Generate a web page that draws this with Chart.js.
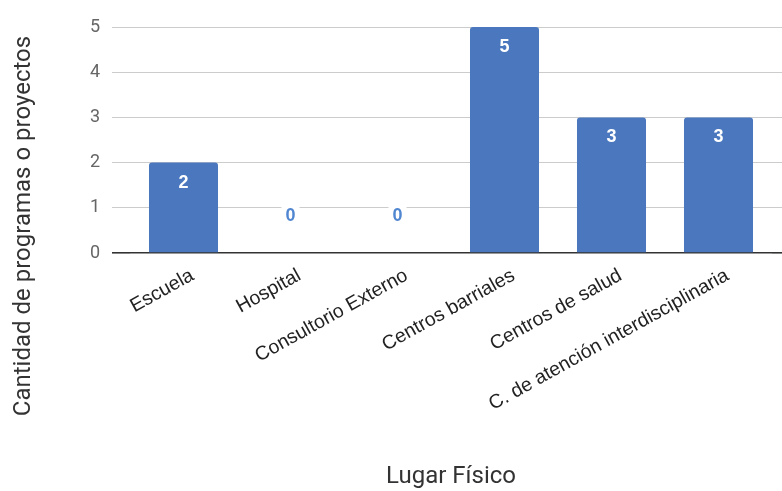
<!DOCTYPE html>
<html>
<head>
<meta charset="utf-8">
<script src="https://cdn.jsdelivr.net/npm/chart.js@4/dist/chart.umd.min.js"></script>
<style>
  html, body { margin: 0; padding: 0; background: #fff; }
  #wrap { width: 782px; height: 491px; position: relative; }
</style>
</head>
<body>
<div id="wrap"><canvas id="c" width="782" height="491"></canvas></div>
<script>
// Lugares físicos y cantidad de programas o proyectos en cada uno
const categories = [
  'Escuela',
  'Hospital',
  'Consultorio Externo',
  'Centros barriales',
  'Centros de salud',
  'C. de atención interdisciplinaria'
];
const cantidades = [2, 0, 0, 5, 3, 3];
const yTicks = [0, 1, 2, 3, 4, 5];
const yAxisTitle = 'Cantidad de programas o proyectos';
const xAxisTitle = 'Lugar Físico';

const BAR_BLUE = '#4a77be';
const ZERO_BLUE = '#5186d1';

const gridColor = (ctx) => (ctx.tick && ctx.tick.value === 0 ? '#333333' : '#cccccc');
const gridWidth = (ctx) => (ctx.tick && ctx.tick.value === 0 ? 1.6 : 1);

// Etiquetas de valor sobre/dentro de cada barra
const valueLabels = {
  id: 'valueLabels',
  afterDatasetsDraw(chart) {
    const { ctx } = chart;
    const meta = chart.getDatasetMeta(0);
    const values = chart.data.datasets[0].data;
    ctx.save();
    ctx.textAlign = 'center';
    ctx.textBaseline = 'middle';
    ctx.font = 'bold 18px "Liberation Sans", Arial, sans-serif';
    meta.data.forEach((bar, i) => {
      const v = values[i];
      const text = String(v);
      if (v > 0) {
        ctx.fillStyle = '#ffffff';
        ctx.fillText(text, bar.x, bar.y + 20);
      } else {
        const y = bar.base - 37;
        const w = ctx.measureText(text).width + 8;
        ctx.fillStyle = '#ffffff';
        ctx.fillRect(bar.x - w / 2, y - 10, w, 20);
        ctx.fillStyle = ZERO_BLUE;
        ctx.fillText(text, bar.x, y);
      }
    });
    ctx.restore();
  }
};

// Título vertical del eje Y
const yTitle = {
  id: 'yTitle',
  afterDraw(chart) {
    const { ctx } = chart;
    ctx.save();
    ctx.translate(24, 226);
    ctx.rotate(-Math.PI / 2);
    ctx.textAlign = 'center';
    ctx.textBaseline = 'middle';
    ctx.fillStyle = '#333333';
    ctx.font = '24px Roboto, sans-serif';
    ctx.fillText(yAxisTitle, 0, 0);
    ctx.restore();
  }
};

new Chart(document.getElementById('c'), {
  type: 'bar',
  data: {
    labels: categories,
    datasets: [{
      data: cantidades,
      backgroundColor: BAR_BLUE,
      borderRadius: 3,
      borderSkipped: 'start',
      categoryPercentage: 1,
      barPercentage: 0.645
    }]
  },
  options: {
    responsive: false,
    animation: false,
    events: [],
    layout: { padding: { top: 27, left: 0, right: 0, bottom: 0 } },
    plugins: {
      legend: { display: false },
      tooltip: { enabled: false }
    },
    scales: {
      x: {
        grid: { display: false, drawTicks: false },
        border: { display: false },
        ticks: {
          minRotation: 29,
          maxRotation: 29,
          autoSkip: false,
          padding: 11,
          labelOffset: 9,
          color: '#222222',
          font: { family: '"Liberation Sans", Arial, sans-serif', size: 19.5 }
        },
        title: {
          display: true,
          text: xAxisTitle,
          color: '#333333',
          font: { family: 'Roboto, sans-serif', size: 24 },
          padding: { top: 0, bottom: 0 }
        },
        afterFit(scale) { scale.height = 238; }
      },
      y: {
        min: 0,
        max: 5,
        afterBuildTicks(scale) { scale.ticks = yTicks.map(v => ({ value: v })); },
        grid: {
          color: gridColor,
          lineWidth: gridWidth,
          drawTicks: true,
          tickLength: 18
        },
        border: { display: false },
        ticks: {
          padding: 12,
          color: '#666666',
          font: { family: 'Roboto, sans-serif', size: 18 }
        },
        afterFit(scale) { scale.width = 130; }
      },
      yRight: {
        position: 'right',
        min: 0,
        max: 5,
        afterBuildTicks(scale) { scale.ticks = yTicks.map(v => ({ value: v })); },
        grid: {
          color: gridColor,
          lineWidth: gridWidth,
          drawOnChartArea: false,
          drawTicks: true,
          tickLength: 10
        },
        border: { display: false },
        ticks: { display: false },
        afterFit(scale) { scale.width = 10; }
      }
    }
  },
  plugins: [valueLabels, yTitle]
});
</script>
</body>
</html>
